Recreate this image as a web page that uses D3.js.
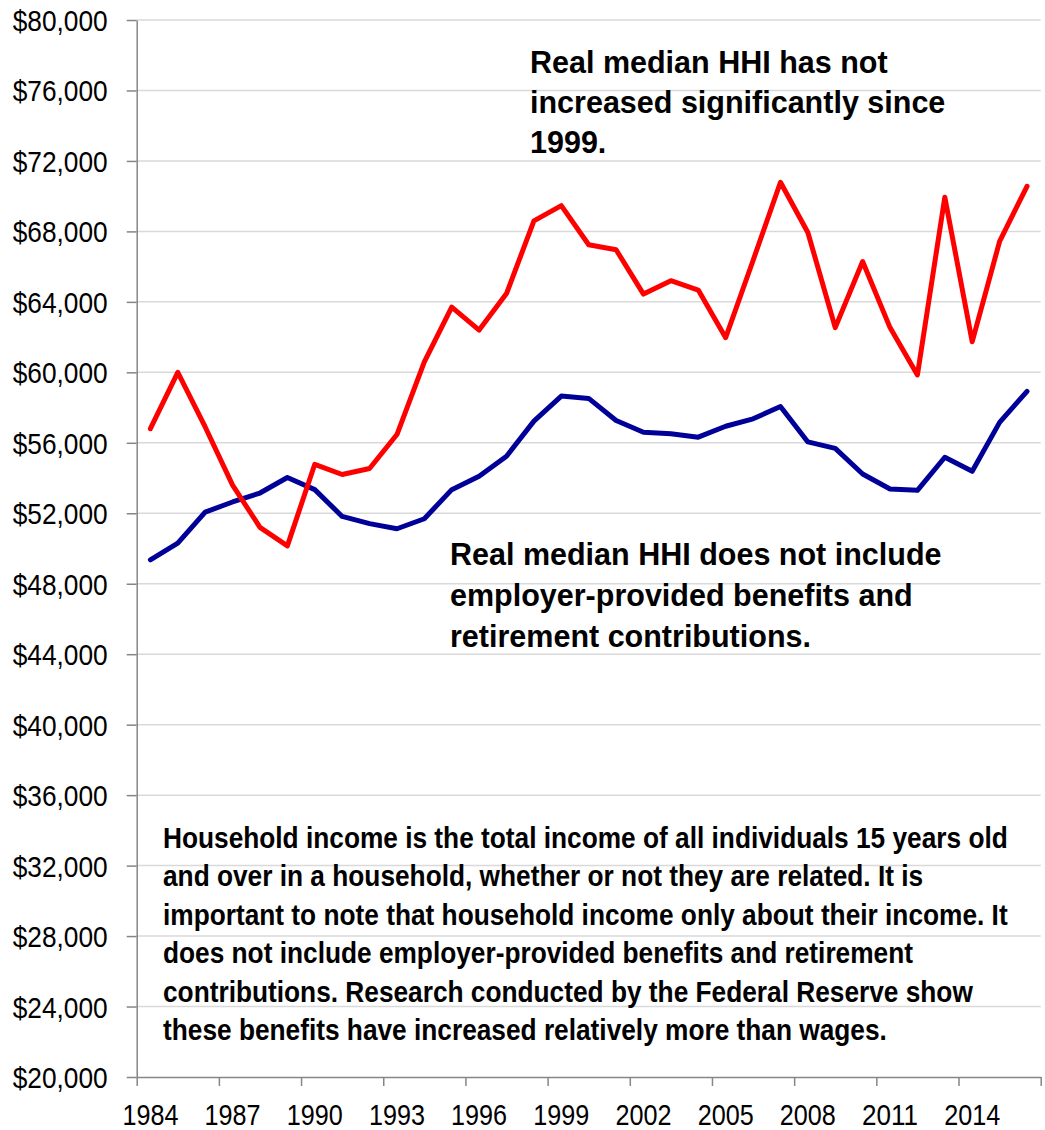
<!DOCTYPE html>
<html><head><meta charset="utf-8">
<script src="https://cdn.jsdelivr.net/npm/d3@7"></script>
<style>body{margin:0;background:#fff} svg{display:block}</style>
</head><body>
<svg id="chart" width="1045" height="1130"></svg>
<script>
// ---- data ----
const years = [1984,1985,1986,1987,1988,1989,1990,1991,1992,1993,1994,1995,1996,1997,1998,1999,2000,2001,2002,2003,2004,2005,2006,2007,2008,2009,2010,2011,2012,2013,2014,2015,2016];
const medianHHI = [49360,50300,52070,52640,53150,54030,53340,51820,51410,51120,51690,53340,54100,55240,57230,58650,58520,57270,56600,56510,56320,56940,57360,58060,56050,55680,54230,53380,53300,55180,54380,57160,58920];
const redSeries = [56800,60000,56900,53600,51200,50150,54780,54200,54540,56470,60600,63700,62400,64470,68600,69460,67240,66960,64440,65200,64670,61970,66350,70790,67940,62540,66290,62540,59850,69940,61740,67430,70560];
const yTickValues = [20000,24000,28000,32000,36000,40000,44000,48000,52000,56000,60000,64000,68000,72000,76000,80000];
const xTickLabels = ["1984","1987","1990","1993","1996","1999","2002","2005","2008","2011","2014"];
const annotationTop = ["Real median HHI has not","increased significantly since","1999."];
const annotationMid = ["Real median HHI does not include","employer-provided benefits and","retirement contributions."];
const noteLines = [
  "Household income is the total income of all individuals 15 years old",
  "and over in a household, whether or not they are related. It is",
  "important to note that household income only about their income. It",
  "does not include employer-provided benefits and retirement",
  "contributions. Research conducted by the Federal Reserve show",
  "these benefits have increased relatively more than wages."
];

(function () {
// ---- layout ----
const pL = 136.7, pR = 1040.7, pT = 20, pB = 1077;
const font = '"Liberation Sans", Arial, Helvetica, sans-serif';
const axisColor = '#868686', gridColor = '#d9d9d9';
const svg = d3.select('#chart');

const x = d3.scaleBand().domain(years).range([pL, pR]).paddingInner(0).paddingOuter(0);
const xb = d3.scaleLinear().domain([0, years.length]).range([pL, pR]);
const y = d3.scaleLinear().domain([20000, 80000]).range([pB, pT]);

// gridlines
svg.append('g').selectAll('line').data(yTickValues.filter(v => v > 20000)).join('line')
  .attr('x1', pL).attr('x2', pR)
  .attr('y1', d => y(d)).attr('y2', d => y(d))
  .attr('stroke', gridColor).attr('stroke-width', 1.5);

// y axis
const gy = svg.append('g').attr('transform', `translate(${pL},0)`)
  .call(d3.axisLeft(y).tickValues(yTickValues).tickSize(10).tickSizeOuter(0)
    .tickFormat(d => '$' + d3.format(',')(d)));
gy.select('.domain').attr('stroke', axisColor).attr('stroke-width', 1.5);
gy.selectAll('.tick line').attr('stroke', axisColor).attr('stroke-width', 1.5);
gy.selectAll('.tick text').attr('x', -29).attr('dy', '0.35em')
  .attr('font-size', 30).attr('font-family', font).attr('fill', '#000')
  .attr('textLength', 95).attr('lengthAdjust', 'spacingAndGlyphs');

// x axis (ticks at category boundaries)
const gx = svg.append('g').attr('transform', `translate(0,${pB})`)
  .call(d3.axisBottom(xb).tickValues(d3.range(0, years.length + 1, 3)).tickSize(9).tickSizeOuter(0).tickFormat(''));
gx.select('.domain').attr('stroke', axisColor).attr('stroke-width', 1.5);
gx.selectAll('.tick line').attr('stroke', axisColor).attr('stroke-width', 1.5);

// x labels at category centres
const gxl = svg.append('g').attr('transform', `translate(0,${pB})`)
  .call(d3.axisBottom(x).tickValues(xTickLabels.map(Number)).tickSize(0).tickFormat(d => String(d)));
gxl.select('.domain').remove();
gxl.selectAll('.tick text').attr('y', 48).attr('dy', 0)
  .attr('font-size', 30).attr('font-family', font).attr('fill', '#000')
  .attr('textLength', 56).attr('lengthAdjust', 'spacingAndGlyphs');

// lines
const line = d3.line().x((d, i) => x(years[i]) + x.bandwidth() / 2).y(d => y(d));
svg.append('path').datum(medianHHI).attr('d', line)
  .attr('fill', 'none').attr('stroke', '#000099').attr('stroke-width', 5)
  .attr('stroke-linejoin', 'round').attr('stroke-linecap', 'round');
svg.append('path').datum(redSeries).attr('d', line)
  .attr('fill', 'none').attr('stroke', '#ff0000').attr('stroke-width', 5)
  .attr('stroke-linejoin', 'round').attr('stroke-linecap', 'round');

// annotations
function block(lines, x0, y0, step, size) {
  const g = svg.append('g');
  g.selectAll('text').data(lines).join('text')
    .attr('x', x0).attr('y', (d, i) => y0 + i * step)
    .attr('font-family', font).attr('font-weight', 'bold').attr('font-size', size)
    .attr('fill', '#000').text(d => d);
  return g;
}
block(annotationTop, 530, 73, 40, 30.5);
block(annotationMid, 450, 565, 41, 30.5);

// note paragraph (condensed to match width)
const ng = svg.append('g');
const nt = ng.selectAll('text').data(noteLines).join('text')
  .attr('x', 0).attr('y', (d, i) => 848 + i * 38.4)
  .attr('font-family', font).attr('font-weight', 'bold').attr('font-size', 30)
  .attr('fill', '#000').text(d => d);
const natural = nt.node().getComputedTextLength();
const k = 845 / natural;
ng.attr('transform', `translate(163,0) scale(${k},1)`);
})();
</script>
</body></html>
